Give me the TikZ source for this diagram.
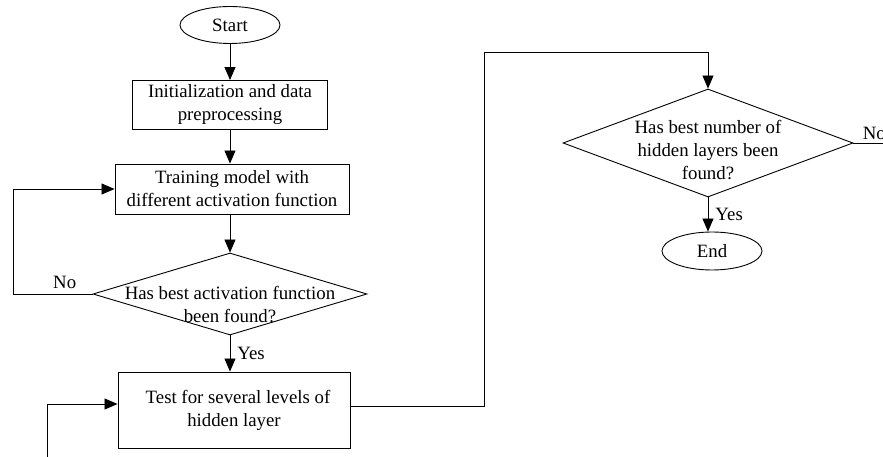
\documentclass[tikz,border=0pt]{standalone}
\usepackage{fontspec}
\setmainfont{Liberation Serif}
\usetikzlibrary{shapes.geometric,arrows.meta}
\tikzset{
  box/.style={draw, rectangle, align=center, inner sep=0pt},
  term/.style={draw, ellipse, inner sep=0pt, minimum width=100bp},
  decide/.style={draw, diamond, inner sep=0pt},
  lbl/.style={inner sep=1bp}
}
\begin{document}
\begin{tikzpicture}[x=1bp, y=-1bp, line width=0.9bp,
    font=\fontsize{18.8bp}{23bp}\selectfont,
    >={Triangle[length=13bp,width=11bp]}]
  \useasboundingbox (0,0) rectangle (883,457);
  % left column
  \node[term, minimum height=37bp] (start) at (230,25) {Start};
  \node[box, minimum width=195bp, minimum height=49bp] (init) at (230,105) {Initialization and data\\preprocessing};
  \node[box, minimum width=234bp, minimum height=50bp] (train) at (232,189) {Training model with\\different activation function};
  \node[decide, minimum width=274bp, minimum height=82bp,
        label={[align=center, yshift=-11bp, name=dec1txt]center:Has best activation function\\been found?}] (dec1) at (230,294) {};
  \node[box, minimum width=232bp, minimum height=76bp] (test) at (234,410) {\hspace*{8bp}Test for several levels of\\hidden layer};
  % right column
  \node[decide, minimum width=290bp, minimum height=108bp,
        label={[align=center, yshift=-7bp, name=dec2txt]center:Has best number of\\hidden layers been\\found?}] (dec2) at (708,143) {};
  \node[term, minimum height=38bp] (end) at (712,251) {End};
  % loose ends
  \coordinate (loopL) at (13,0);
  \coordinate (loopB) at (47,462);
  \coordinate (topR) at (484,52);
  \coordinate (exitR) at (890,143);
  % connectors
  \draw[->] (start) -- (init);
  \draw[->] (init.south) -- (init.south |- train.north);
  \draw[->] (train.south -| dec1.north) -- (dec1.north);
  \draw[->] (dec1.south) -- node[lbl, right=6bp, name=yes1] {Yes} (dec1.south |- test.north);
  \draw[->] (dec1.west) -- node[lbl, above=4bp, pos=0.35, name=no1] {No} (dec1.west -| loopL) |- (train.west);
  \draw[->] (loopB) |- ([yshift=6bp]test.west);
  \draw[->] ([yshift=4bp]test.east) -| (topR) -| (dec2.north);
  \draw[->] (dec2.south) -- node[lbl, right=6bp, name=yes2] {Yes} (dec2.south |- end.north);
  \draw (dec2.east) -- node[lbl, anchor=south west, pos=0, xshift=8bp, yshift=2bp, name=no2] {No} (exitR);
\end{tikzpicture}
\end{document}
